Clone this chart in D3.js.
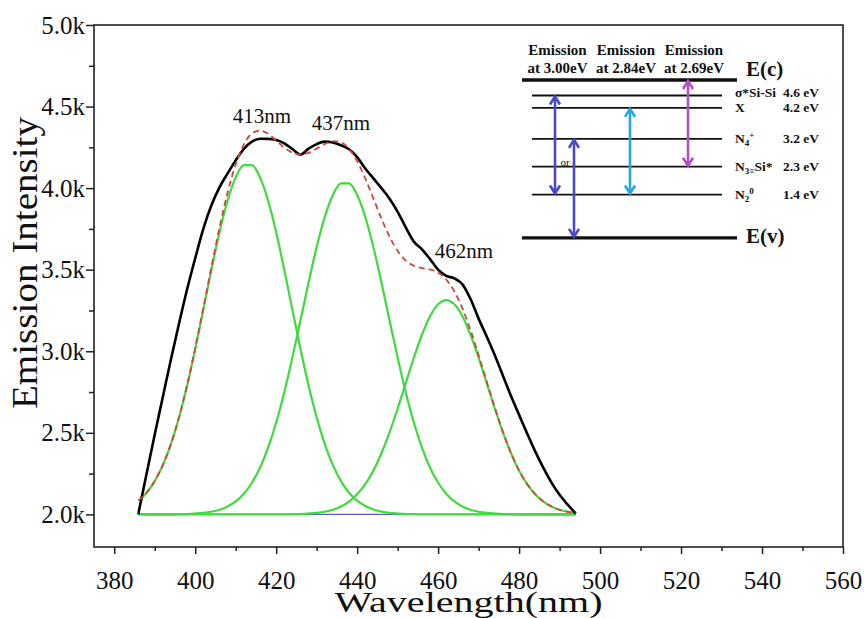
<!DOCTYPE html>
<html>
<head>
<meta charset="utf-8">
<script src="https://cdn.jsdelivr.net/npm/d3@7"></script>
<style>
body{margin:0;background:#fff;}
text{font-family:"Liberation Serif","Times New Roman",serif;fill:#111;}
</style>
</head>
<body>
<svg id="chart" width="864" height="618"></svg>
<script>
// spectrum (nm / counts)
var wavelength = [386,388,390,392,394,396,398,400,402,404,406,408,410,412,414,416,418,420,422,424,426,428,430,432,434,436,438,440,442,444,446,448,450,452,454,456,458,460,462,464,466,468,470,472,474,476,478,480,482,484,486,488,490,492,494];
var measured = [2010,2250,2490,2720,2950,3170,3380,3570,3750,3895,4005,4090,4170,4240,4285,4303,4302,4295,4275,4240,4205,4242,4270,4285,4280,4263,4238,4190,4120,4060,4000,3935,3855,3760,3672,3625,3565,3500,3462,3447,3410,3320,3200,3090,2975,2850,2725,2610,2495,2385,2285,2195,2120,2060,2005];
var cumulativeFit = [2084,2133,2204,2302,2431,2595,2792,3019,3264,3515,3757,3972,4145,4267,4335,4352,4333,4292,4248,4217,4206,4216,4242,4270,4288,4281,4240,4165,4059,3937,3813,3702,3615,3556,3524,3510,3501,3482,3440,3367,3263,3129,2976,2814,2654,2505,2376,2268,2185,2123,2078,2048,2028,2016,2009];
var peak413 = [2084,2133,2204,2302,2431,2594,2790,3014,3255,3499,3729,3924,4066,4141,4141,4066,3924,3729,3499,3255,3014,2790,2594,2431,2302,2204,2133,2084,2051,2030,2017,2009,2005,2002,2001,2000,2000,2000,2000,2000,2000,2000,2000,2000,2000,2000,2000,2000,2000,2000,2000,2000,2000,2000,2000];
var peak437 = [2000,2000,2000,2000,2000,2001,2002,2005,2009,2016,2028,2048,2079,2126,2194,2286,2409,2563,2749,2961,3190,3421,3639,3823,3958,4029,4029,3958,3823,3639,3421,3190,2961,2749,2563,2409,2286,2194,2126,2079,2048,2028,2016,2009,2005,2002,2001,2000,2000,2000,2000,2000,2000,2000,2000];
var peak462 = [2000,2000,2000,2000,2000,2000,2000,2000,2000,2000,2000,2000,2000,2000,2000,2000,2000,2000,2000,2001,2002,2005,2009,2016,2028,2048,2078,2123,2185,2268,2375,2503,2649,2805,2960,3101,3215,3288,3314,3288,3215,3101,2960,2805,2649,2503,2375,2268,2185,2123,2078,2048,2028,2016,2009];
var baseline = 2000;

var xTicks = [380,400,420,440,460,480,500,520,540,560];
var xMinor = [390,410,430,450,470,490,510,530,550];
var yTicks = [2000,2500,3000,3500,4000,4500,5000];
var yMinor = [2250,2750,3250,3750,4250,4750];

var peakLabels = ["413nm","437nm","462nm"];
var peakLabelWl = [416.5,436,466.4];
var peakLabelI = [4400,4355,3570];

// energy level inset (eV)
var levelEnergy = [4.6,4.2,3.2,2.3,1.4];
var levelValue = ["4.6 eV","4.2 eV","3.2 eV","2.3 eV","1.4 eV"];
var bandEdge = [5.1,0];
var bandName = ["E(c)","E(v)"];
var emissionEnergy = ["3.00eV","2.84eV","2.69eV"];
var transFrom = [4.6,3.2,4.2,5.1];
var transTo = [1.4,0,1.4,2.3];
var transColor = ["#4a48c8","#4a48c8","#22a9e4","#b24ec6"];

var svg = d3.select("#chart");
var x = d3.scaleLinear().domain([375,560]).range([94,843]);
var y = d3.scaleLinear().domain([1800,5000]).range([547,25]);

// axes
var gx = svg.append("g").attr("transform","translate(0,547)")
	.call(d3.axisBottom(x).tickValues(xTicks).tickSize(7).tickPadding(17).tickFormat(d3.format("d")));
gx.attr("font-size",25);
svg.append("g").attr("transform","translate(0,547)")
	.call(d3.axisBottom(x).tickValues(xMinor).tickSize(4).tickFormat(""));
var gy = svg.append("g").attr("transform","translate(94,0)")
	.call(d3.axisLeft(y).tickValues(yTicks).tickSize(8).tickPadding(1).tickFormat(function(d){return (d/1000).toFixed(1)+"k";}));
gy.attr("font-size",25);
svg.append("g").attr("transform","translate(94,0)")
	.call(d3.axisLeft(y).tickValues(yMinor).tickSize(5).tickFormat(""));
svg.selectAll(".domain").remove();
svg.selectAll(".tick line").attr("stroke","#222").attr("stroke-width",1.5);

svg.append("rect").attr("x",x(375)).attr("y",y(5000))
	.attr("width",x(560)-x(375)).attr("height",y(1800)-y(5000))
	.attr("fill","none").attr("stroke","#222").attr("stroke-width",1.6);

// axis titles
svg.append("text").attr("x",x(467.5)).attr("y",612).attr("text-anchor","middle")
	.attr("font-size",29).attr("textLength",268).attr("lengthAdjust","spacingAndGlyphs")
	.text("Wavelength(nm)");
svg.append("text").attr("transform","translate(37,263) rotate(-90)").attr("text-anchor","middle")
	.attr("font-size",35).attr("textLength",292).attr("lengthAdjust","spacingAndGlyphs")
	.text("Emission Intensity");

// curves
function lineOf(vals)
{
	return d3.line().x(function(d,i){return x(wavelength[i]);}).y(function(d){return y(d);}).curve(d3.curveMonotoneX)(vals);
}
svg.append("line").attr("x1",x(wavelength[0])).attr("x2",x(wavelength[wavelength.length-1]))
	.attr("y1",y(baseline)).attr("y2",y(baseline)).attr("stroke","#5a5ad8").attr("stroke-width",1.2);
[peak413,peak437,peak462].forEach(function(p){
	svg.append("path").attr("d",lineOf(p)).attr("fill","none").attr("stroke","#3cdc3c").attr("stroke-width",2.2);
});
svg.append("path").attr("d",lineOf(measured)).attr("fill","none").attr("stroke","#000").attr("stroke-width",2.6);
svg.append("line").attr("x1",x(wavelength[0])).attr("x2",x(wavelength[0]))
	.attr("y1",y(measured[0])).attr("y2",y(baseline)).attr("stroke","#000").attr("stroke-width",2.6);
svg.append("path").attr("d",lineOf(cumulativeFit)).attr("fill","none").attr("stroke","#d4443a")
	.attr("stroke-width",1.8).attr("stroke-dasharray","6,4");

peakLabels.forEach(function(t,i){
	svg.append("text").attr("x",x(peakLabelWl[i])).attr("y",y(peakLabelI[i]))
		.attr("text-anchor","middle").attr("font-size",21).text(t);
});

// inset: energy band diagram
var e = d3.scaleLinear().domain([0,5.1]).range([237.9,80]);
var inset = svg.append("g");
var headX = [557.5,626,694];
emissionEnergy.forEach(function(t,i){
	inset.append("text").attr("x",headX[i]).attr("y",55).attr("text-anchor","middle")
		.attr("font-size",15).attr("font-weight","bold").text("Emission");
	inset.append("text").attr("x",headX[i]).attr("y",73).attr("text-anchor","middle")
		.attr("font-size",15).attr("font-weight","bold").text("at "+t);
});
bandEdge.forEach(function(v,i){
	inset.append("line").attr("x1",522).attr("x2",737).attr("y1",e(v)).attr("y2",e(v))
		.attr("stroke","#111").attr("stroke-width",3.4);
	inset.append("text").attr("x",746).attr("y",e(v)+(i==0?-4:5)).attr("font-size",21)
		.attr("font-weight","bold").text(bandName[i]);
});
levelEnergy.forEach(function(v,i){
	inset.append("line").attr("x1",532).attr("x2",722).attr("y1",e(v)).attr("y2",e(v))
		.attr("stroke","#111").attr("stroke-width",1.8);
	inset.append("text").attr("x",783).attr("y",e(v)+(i==0?2:4.5)).attr("font-size",13.5)
		.attr("font-weight","bold").text(levelValue[i]);
});
function levelLabel(i,parts)
{
	var t = inset.append("text").attr("x",735).attr("y",e(levelEnergy[i])+(i==0?2:4.5))
		.attr("font-size",13.5).attr("font-weight","bold");
	var shift = 0;
	parts.forEach(function(p){
		var dy = (p[1]=="sub"?3:p[1]=="sup"?-5:0) - shift;
		shift += dy;
		t.append("tspan").attr("dy",dy).attr("font-size",p[1]?9:13.5).text(p[0]);
	});
}
levelLabel(0,[["σ*Si-Si"]]);
levelLabel(1,[["X"]]);
levelLabel(2,[["N"],["4","sub"],["+","sup"]]);
levelLabel(3,[["N"],["3≡","sub"],["Si*"]]);
levelLabel(4,[["N"],["2","sub"],["0","sup"]]);

var arrowX = [555,574,630,688];
transFrom.forEach(function(f,i){
	var ax = arrowX[i], y1 = e(f), y2 = e(transTo[i]);
	var g = inset.append("g").attr("stroke",transColor[i]).attr("stroke-width",2.6).attr("fill","none");
	g.append("line").attr("x1",ax).attr("x2",ax).attr("y1",y1+1).attr("y2",y2-1);
	g.append("path").attr("d","M"+(ax-5)+","+(y1+9)+"L"+ax+","+(y1+1)+"L"+(ax+5)+","+(y1+9));
	g.append("path").attr("d","M"+(ax-5)+","+(y2-9)+"L"+ax+","+(y2-1)+"L"+(ax+5)+","+(y2-9));
});
inset.append("text").attr("x",565).attr("y",166).attr("text-anchor","middle").attr("font-size",11).text("or");
</script>
</body>
</html>
